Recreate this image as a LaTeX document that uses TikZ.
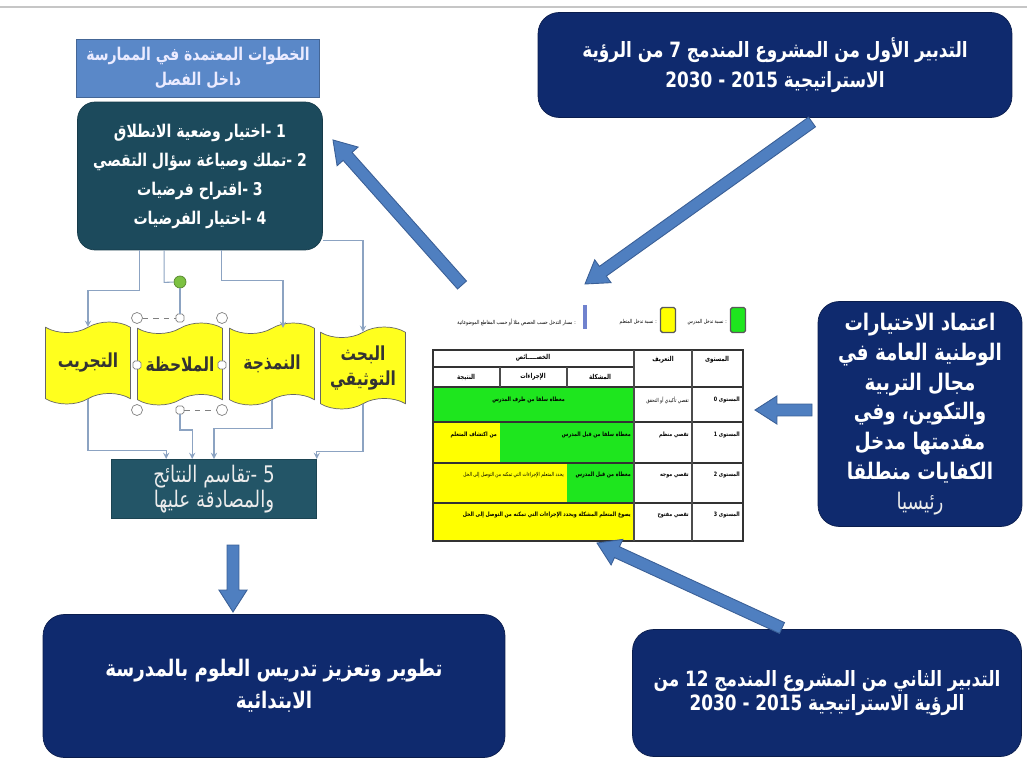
\documentclass[tikz,border=0pt]{standalone}
\usepackage{fontspec}
\usetikzlibrary{shapes.symbols, calc}
\TeXXeTstate=1
\newfontfamily\arabicfont[Script=Arabic, FakeStretch=0.8]{DejaVu Sans}

\newcommand{\ar}[1]{\beginR #1\endR}
\newcommand{\hyph}{-\kern0pt}

\definecolor{navy}{HTML}{0F2A6E}
\definecolor{teal}{HTML}{1C4A5C}
\definecolor{resteal}{HTML}{235567}
\definecolor{titleblue}{HTML}{5A88C8}
\definecolor{arrowblue}{HTML}{4F7FC0}
\definecolor{arrowedge}{HTML}{3A5F96}
\definecolor{linkblue}{HTML}{8CA3C2}
\definecolor{tgreen}{HTML}{1EE61E}
\definecolor{tyellow}{HTML}{FFFF00}
\definecolor{waveyellow}{HTML}{FFFF1E}
\definecolor{rotgreen}{HTML}{7CC142}

% block arrow between two named coordinates
\newcommand{\blockarrow}[2]{%
    \filldraw[fill=arrowblue, draw=arrowedge, line width=0.5pt]
        ($(#1)!3.4pt!90:(#2)$) --
        ($(#2)!12.5pt!(#1)!3.4pt!90:(#2)$) --
        ($(#2)!12.5pt!(#1)!8pt!90:(#2)$) --
        (#2) --
        ($(#2)!12.5pt!(#1)!8pt!-90:(#2)$) --
        ($(#2)!12.5pt!(#1)!3.4pt!-90:(#2)$) --
        ($(#1)!3.4pt!-90:(#2)$) -- cycle;}

\begin{document}
\begin{tikzpicture}[x=0.02cm, y=-0.02cm]
    \tikzstyle{navybox}=[rounded corners=12pt, fill=navy, draw=navy!70!black, text=white, align=center, inner sep=4pt, font=\arabicfont\bfseries\fontsize{12}{17}\selectfont]
    \tikzstyle{titlebox}=[fill=titleblue, draw=titleblue!75!black, text=white!92!blue, align=center, font=\arabicfont\bfseries\fontsize{10}{14}\selectfont]
    \tikzstyle{stepsbox}=[rounded corners=10pt, fill=teal, draw=teal!80!black, text=white, align=center, font=\arabicfont\bfseries\fontsize{10}{16.5}\selectfont]
    \tikzstyle{resultbox}=[fill=resteal, draw=resteal!80!black, text=white!85!gray, align=center, font=\arabicfont\fontsize{13}{14}\selectfont]
    \tikzstyle{wave}=[tape, draw=black!60, fill=waveyellow, minimum width=1.7cm, minimum height=1.64cm, tape bend height=6pt, align=center, inner sep=1pt, text=black!80, font=\arabicfont\bfseries\fontsize{11}{14}\selectfont]
    \tikzstyle{handle}=[circle, draw=black!50, fill=white, minimum size=0.22cm, inner sep=0pt]
    \tikzstyle{midhandle}=[rectangle, rounded corners=1pt, draw=black!50, fill=white, minimum size=0.16cm, inner sep=0pt]
    \tikzstyle{link}=[draw=linkblue, line width=0.6pt, ->, >=stealth]
    \tikzstyle{linkplain}=[draw=linkblue, line width=0.6pt]
    \tikzstyle{cell}=[inner sep=0.5pt, anchor=north east, font=\arabicfont\bfseries\fontsize{3.4}{4}\selectfont]
    \tikzstyle{smallcell}=[inner sep=0.5pt, anchor=north east, font=\arabicfont\fontsize{3.1}{4}\selectfont]
    \tikzstyle{headcell}=[inner sep=0.5pt, font=\arabicfont\bfseries\fontsize{3.9}{4}\selectfont]
    \tikzstyle{legsq}=[rectangle, rounded corners=1pt, draw=black!65, line width=0.8pt, minimum width=0.3cm, minimum height=0.5cm, inner sep=0pt]

    \useasboundingbox (0,0) rectangle (1027,766);
    \draw[gray!45, line width=0.8pt] (0,7) -- (1027,7);

    % boxes
    \node[navybox, minimum width=9.48cm, minimum height=2.1cm] (plan7) at (775,65)
        {\ar{التدبير الأول من المشروع المندمج 7 من الرؤية}\\\ar{الاستراتيجية 2015 - 2030}};
    \node[navybox, minimum width=4.08cm, minimum height=4.5cm, font=\arabicfont\bfseries\fontsize{13}{17}\selectfont] (choices) at (920,414)
        {\ar{اعتماد الاختيارات}\\\ar{الوطنية العامة في}\\\ar{مجال التربية}\\\ar{والتكوين، وفي}\\\ar{مقدمتها مدخل}\\\ar{الكفايات منطلقا}\\{\mdseries\color{white!85!gray}\ar{رئيسيا}}};
    \node[navybox, minimum width=7.78cm, minimum height=2.54cm, font=\arabicfont\bfseries\fontsize{12}{13.5}\selectfont] (plan12) at (827,693)
        {\ar{التدبير الثاني من المشروع المندمج 12 من}\\\ar{الرؤية الاستراتيجية 2015 - 2030}};
    \node[navybox, minimum width=9.24cm, minimum height=2.86cm, font=\arabicfont\bfseries\fontsize{13}{18}\selectfont] (goal) at (274,686)
        {\ar{تطوير وتعزيز تدريس العلوم بالمدرسة}\\\ar{الابتدائية}};

    \node[titlebox, minimum width=4.86cm, minimum height=1.16cm] (title) at (198,68)
        {\ar{الخطوات المعتمدة في الممارسة}\\\ar{داخل الفصل}};
    \node[stepsbox, minimum width=4.9cm, minimum height=2.96cm] (steps) at (200,176)
        {\ar{1 \hyph اختيار وضعية الانطلاق}\\\ar{2 \hyph تملك وصياغة سؤال التقصي}\\\ar{3 \hyph اقتراح فرضيات}\\\ar{4 \hyph اختيار الفرضيات}};
    \node[resultbox, minimum width=4.1cm, minimum height=1.02cm] (res) at (214,489)
        {\ar{5 \hyph تقاسم النتائج}\\\ar{والمصادقة عليها}};

    % yellow waves
    \node[wave] (exp) at (88,363) {\ar{التجريب}};
    \node[wave] (obs) at (180,364) {\ar{الملاحظة}};
    \node[wave] (mod) at (272,364) {\ar{النمذجة}};
    \node[wave] (doc) at (363,368) {\ar{البحث}\\\ar{التوثيقي}};

    % selection handles
    \foreach \px/\py/\nm in {137/318/htl, 222/318/htr, 137/410/hbl, 222/410/hbr}
        \node[handle] (\nm) at (\px,\py) {};
    \foreach \px/\py/\nm in {180/318/htm, 137/365/hml, 222/365/hmr, 180/410/hbm}
        \node[midhandle] (\nm) at (\px,\py) {};
    \node[circle, draw=rotgreen!70!black, fill=rotgreen, minimum size=0.24cm, inner sep=0pt] (rot) at (180,282) {};
    \draw[black!50, dashed] (htl) -- (htm);
    \draw[black!50, dashed] (hbm) -- (hbr);

    % connectors
    \draw[link] ($(steps.south west)+(62,0)$) -- ++(0,40) -| (exp.north);
    \draw[linkplain] ($(steps.south west)+(87,0)$) -- ++(0,32) -- (rot);
    \draw[linkplain] (rot) -- (htm);
    \draw[link] ($(steps.south west)+(144,0)$) -- ++(0,30) -| ($(mod.north)+(11,0)$);
    \draw[link] ($(steps.south east)+(0,-10)$) -| (doc.north);

    \draw[link] (exp.south) -- ++(0,51) -| ($(res.north west)+(55,0)$);
    \draw[link] (hbm) -- ++(0,20) -| ($(res.north west)+(81,0)$);
    \draw[link] (mod.south) -- ++(0,28) -| (res.north);
    \draw[link] (doc.south) -- ++(0,47) -| (res.north east);

    % table
    \foreach \xa/\ya/\xb/\yb/\cl in {433/387/634/422/tgreen, 433/422/500/463/tyellow, 500/422/634/463/tgreen,
                                    433/463/567/503/tyellow, 567/463/634/503/tgreen, 433/503/634/541/tyellow}
        \fill[\cl] (\xa,\ya) rectangle (\xb,\yb);
    \draw[line width=1.1pt, black!80] (433,350) rectangle (743,541);
    \foreach \yy in {387, 422, 463, 503}
        \draw[line width=1.1pt, black!80] (433,\yy) -- (743,\yy);
    \draw[line width=0.8pt, black!80] (433,367) -- (634,367);
    \foreach \xx in {634, 692}
        \draw[line width=0.6pt, black!70] (\xx,350) -- (\xx,541);
    \foreach \xx in {500, 567}
        \draw[line width=0.6pt, black!70] (\xx,367) -- (\xx,387);

    \node[headcell] (hlvl) at (717,360) {\ar{المستوى}};
    \node[headcell] (hdef) at (663,360) {\ar{التعريف}};
    \node[headcell] (hcar) at (533,358) {\ar{الخصـــــائص}};
    \node[headcell] (hq) at (600,377) {\ar{المشكلة}};
    \node[headcell] (hp) at (533,377) {\ar{الإجراءات}};
    \node[headcell] (hs) at (466,377) {\ar{النتيجة}};

    \node[cell] (l0) at (741,396) {\ar{المستوى 0}};
    \node[smallcell] (d0) at (690,396) {\ar{تقصي تأكيدي أو التحقق}};
    \node[cell] (g0) at (566,396) {\ar{معطاة سلفا من طرف المدرس}};
    \node[cell] (l1) at (741,431) {\ar{المستوى 1}};
    \node[cell] (d1) at (690,431) {\ar{تقصي منظم}};
    \node[cell] (g1) at (632,431) {\ar{معطاة سلفا من قبل المدرس}};
    \node[cell] (y1) at (498,431) {\ar{من اكتشاف المتعلم}};
    \node[cell] (l2) at (741,471) {\ar{المستوى 2}};
    \node[cell] (d2) at (690,471) {\ar{تقصي موجه}};
    \node[cell] (g2) at (632,471) {\ar{معطاة من قبل المدرس}};
    \node[smallcell] (y2) at (565,471) {\ar{يحدد المتعلم الإجراءات التي تمكنه من التوصل إلى الحل}};
    \node[cell] (l3) at (741,511) {\ar{المستوى 3}};
    \node[cell] (d3) at (690,511) {\ar{تقصي مفتوح}};
    \node[cell] (y3) at (632,511) {\ar{يصوغ المتعلم المشكلة ويحدد الإجراءات التي تمكنه من التوصل إلى الحل}};

    % legend
    \node[legsq, fill=tgreen] (lgreen) at (738,320) {};
    \node[smallcell, anchor=east] (tgr) at (728,322) {\ar{: نسبة تدخل المدرس}};
    \node[legsq, fill=tyellow] (lyellow) at (668,320) {};
    \node[smallcell, anchor=east] (tye) at (658,322) {\ar{: نسبة تدخل المتعلم}};
    \node[rectangle, fill=linkblue!80!blue, minimum width=0.08cm, minimum height=0.48cm, inner sep=0pt] (lbar) at (585,317) {};
    \node[smallcell, anchor=east] (tba) at (577,322) {\ar{: مسار التدخل حسب الحصص مثلا أو حسب المقاطع الموضوعاتية}};

    % block arrows
    \coordinate (a1s) at (812,122);
    \coordinate (a1e) at (585,284);
    \coordinate (a2s) at (462,285);
    \coordinate (a2e) at (333,140);
    \coordinate (a3s) at (812,410);
    \coordinate (a3e) at (755,410);
    \coordinate (a4s) at (782,628);
    \coordinate (a4e) at (597,543);
    \coordinate (a5s) at (233,545);
    \coordinate (a5e) at (233,612);
    \blockarrow{a1s}{a1e}
    \blockarrow{a2s}{a2e}
    \blockarrow{a3s}{a3e}
    \blockarrow{a4s}{a4e}
    \blockarrow{a5s}{a5e}
\end{tikzpicture}
\end{document}
